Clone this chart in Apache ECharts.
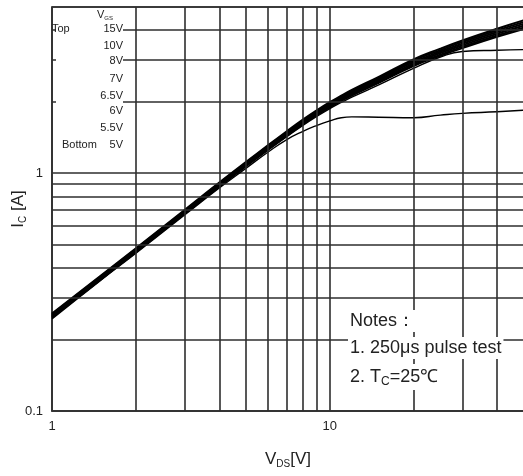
<!DOCTYPE html>
<html>
<head>
<meta charset="utf-8">
<script src="https://cdn.jsdelivr.net/npm/echarts@6/dist/echarts.min.js"></script>
<style>
  html, body { margin: 0; padding: 0; background: #fff; }
  #chart { width: 523px; height: 476px; }
</style>
</head>
<body>
<div id="chart"></div>
<script>
    // V_DS sample points [V]
    const vds = [1, 1.5, 2, 3, 4, 5, 6, 7, 8, 9, 10, 11, 12, 15, 20, 25, 30, 40, 50];
    // I_C [A] for each V_GS
    const ic15 = [0.2568, 0.3715, 0.4821, 0.7004, 0.9134, 1.1166, 1.3119, 1.4995, 1.6793, 1.8421, 1.9889, 2.1196, 2.2393, 2.5430, 3.0101, 3.3422, 3.6157, 4.0525, 4.3998];
    const ic10 = [0.2549, 0.3687, 0.4786, 0.6952, 0.9062, 1.1078, 1.3010, 1.4863, 1.6637, 1.8241, 1.9685, 2.0968, 2.2142, 2.5120, 2.9706, 3.2951, 3.5614, 3.9877, 4.3254];
    const ic8  = [0.2530, 0.3660, 0.4750, 0.6900, 0.8990, 1.0990, 1.2900, 1.4730, 1.6480, 1.8060, 1.9480, 2.0740, 2.1890, 2.4810, 2.9310, 3.2480, 3.5070, 3.9230, 4.2510];
    const ic7  = [0.2511, 0.3633, 0.4714, 0.6848, 0.8918, 1.0902, 1.2790, 1.4597, 1.6323, 1.7879, 1.9275, 2.0512, 2.1638, 2.4500, 2.8914, 3.2009, 3.4526, 3.8583, 4.1766];
    const ic65 = [0.2492, 0.3605, 0.4679, 0.6797, 0.8846, 1.0814, 1.2681, 1.4465, 1.6167, 1.7699, 1.9071, 2.0284, 2.1387, 2.4190, 2.8519, 3.1538, 3.3983, 3.7935, 4.1022];
    const ic6  = [0.2477, 0.3583, 0.4650, 0.6755, 0.8789, 1.0744, 1.2593, 1.4359, 1.6042, 1.7554, 1.8907, 2.0101, 2.1185, 2.3942, 2.8202, 3.1161, 3.3548, 3.7418, 4.0427];
    const ic55 = [0.2465, 0.3570, 0.4630, 0.6720, 0.8740, 1.0670, 1.2500, 1.4240, 1.5880, 1.7360, 1.8680, 1.9840, 2.0880, 2.3500, 2.7600, 3.0800, 3.2500, 3.2900, 3.3100];
    const ic5  = [0.2440, 0.3550, 0.4600, 0.6670, 0.8660, 1.0500, 1.2280, 1.3850, 1.5000, 1.5900, 1.6600, 1.7120, 1.7250, 1.7200, 1.7120, 1.7550, 1.7850, 1.8120, 1.8400];

    const gateLabels = ['15V', '10V', '8V', '7V', '6.5V', '6V', '5.5V', '5V'];
    // minor grid values (log decades)
    const gridX = [2, 3, 4, 5, 6, 7, 8, 9, 20, 30, 40];
    const gridY = [0.2, 0.3, 0.4, 0.5, 0.6, 0.7, 0.8, 0.9, 2, 3, 4];

    const FONT = 'Liberation Sans, Arial, sans-serif';
    const GRID = '#2e2e2e';

    const curves = [
        { data: ic15, width: 2 },
        { data: ic10, width: 2 },
        { data: ic8, width: 2 },
        { data: ic7, width: 2 },
        { data: ic65, width: 2 },
        { data: ic6, width: 1.8 },
        { data: ic55, width: 1.4 },
        { data: ic5, width: 1.4 }
    ];

    function decadeLabel (v) {
        let e = Math.log10(v);
        return Math.abs(e - Math.round(e)) < 1e-6 ? String(v) : '';
    }

    let series = curves.map((c, i) => ({
        type: 'line',
        name: gateLabels[i],
        data: vds.map((x, k) => [x, c.data[k]]),
        smooth: 0.5,
        showSymbol: false,
        z: 3,
        lineStyle: { color: '#000', width: c.width }
    }));

    // minor grid lines drawn through the axes
    series.unshift({
        type: 'line',
        data: [],
        silent: true,
        z: 1,
        markLine: {
            silent: true,
            animation: false,
            symbol: ['none', 'none'],
            label: { show: false },
            lineStyle: { color: GRID, width: 1.6, type: 'solid' },
            data: gridX.map(v => ({ xAxis: v })).concat(gridY.map(v => ({ yAxis: v })))
        }
    });

    // V_GS legend rows (y positions)
    const rowY = [29, 46, 61, 79, 96, 111, 128, 145];
    let graphic = [
        { type: 'rect', z: 50, shape: { x: 56, y: 9, width: 67, height: 143 }, style: { fill: '#fff' } },
        { type: 'text', z: 60, x: 97, y: 15, style: { text: '{v|V}{s|GS}', verticalAlign: 'middle', rich: {
            v: { font: '11px ' + FONT, fill: '#222' },
            s: { font: '6px ' + FONT, fill: '#222', padding: [7, 0, 0, 0] }
        } } },
        { type: 'text', z: 60, x: 52, y: 29, style: { text: 'Top', font: '11px ' + FONT, fill: '#222', verticalAlign: 'middle' } },
        { type: 'text', z: 60, x: 62, y: 145, style: { text: 'Bottom', font: '11px ' + FONT, fill: '#222', verticalAlign: 'middle' } }
    ];
    gateLabels.forEach((t, i) => {
        graphic.push({ type: 'text', z: 60, x: 123, y: rowY[i], style: { text: t, font: '11px ' + FONT, fill: '#222', align: 'right', verticalAlign: 'middle' } });
    });
    // notes
    const noteStyle = { font: '18px ' + FONT, fill: '#222', verticalAlign: 'middle', backgroundColor: '#fff', padding: [2, 2, 2, 2] };
    graphic.push(
        { type: 'text', z: 60, x: 348, y: 321, style: Object.assign({ text: 'Notes：' }, noteStyle) },
        { type: 'text', z: 60, x: 348, y: 348, style: Object.assign({ text: '1. 250μs pulse test' }, noteStyle) },
        { type: 'text', z: 60, x: 348, y: 377, style: Object.assign({ text: '{m|2. T}{s|C}{m|=25℃}', rich: {
            m: { font: '18px ' + FONT, fill: '#222' },
            s: { font: '12px ' + FONT, fill: '#222', padding: [10, 0, 0, 0] }
        } }, noteStyle) }
    );

    let option = {
        animation: false,
        backgroundColor: '#fff',
        grid: {
            left: 52, top: 7, width: 472, height: 404,
            containLabel: false,
            outerBoundsMode: 'none',
            show: true, borderColor: '#333', borderWidth: 1.5, backgroundColor: '#fff'
        },
        xAxis: {
            type: 'log', logBase: 10, min: 1, max: 50,
            axisLine: { show: true, lineStyle: { color: '#333', width: 1.5 } },
            axisTick: { show: false },
            splitLine: { show: true, lineStyle: { color: GRID, width: 1.6 } },
            axisLabel: { formatter: decadeLabel, color: '#222', fontSize: 13, fontFamily: FONT, margin: 9 },
            name: '{m|V}{s|DS}{m|[V]}',
            nameLocation: 'middle',
            nameGap: 38,
            nameMoveOverlap: false,
            nameTextStyle: { rich: {
                m: { fontSize: 17, fontFamily: FONT, color: '#222' },
                s: { fontSize: 10, fontFamily: FONT, color: '#222', padding: [10, 0, 0, 0] }
            } }
        },
        yAxis: {
            type: 'log', logBase: 10, min: 0.1, max: 5,
            axisLine: { show: true, lineStyle: { color: '#333', width: 1.5 } },
            axisTick: { show: false },
            splitLine: { show: true, lineStyle: { color: GRID, width: 1.6 } },
            axisLabel: { formatter: decadeLabel, color: '#222', fontSize: 13, fontFamily: FONT, margin: 9 },
            name: '{m|I}{s|C}{m| [A]}',
            nameLocation: 'middle',
            nameGap: 24,
            nameMoveOverlap: false,
            nameTextStyle: { rich: {
                m: { fontSize: 17, fontFamily: FONT, color: '#222' },
                s: { fontSize: 10, fontFamily: FONT, color: '#222', padding: [10, 0, 0, 0] }
            } }
        },
        graphic: graphic,
        series: series
    };

    let chart = echarts.init(document.getElementById('chart'));
    chart.setOption(option);
</script>
</body>
</html>
